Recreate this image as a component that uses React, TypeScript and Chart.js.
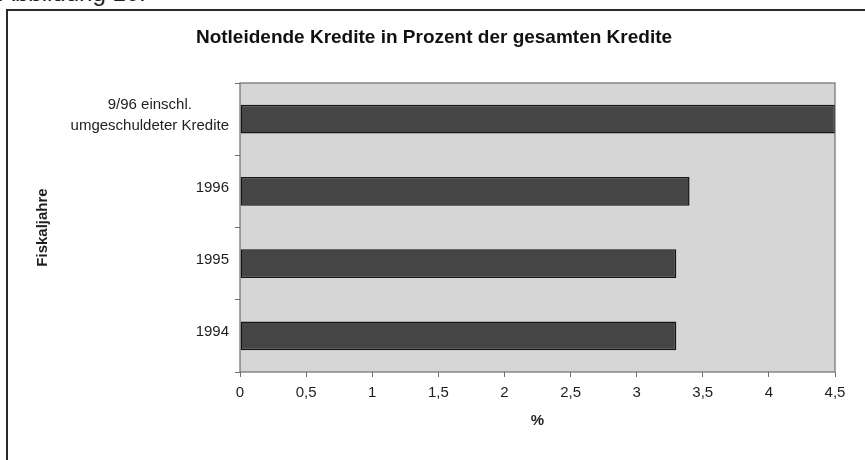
import React, { useEffect, useRef } from "react";
import { Chart, registerables } from "chart.js";

Chart.register(...registerables);

// ---- data ----
const categories: (string | string[])[] = [
  ["9/96 einschl.", "umgeschuldeter Kredite"],
  "1996",
  "1995",
  "1994",
];
const values: number[] = [4.5, 3.4, 3.3, 3.3];
const xMin = 0;
const xMax = 4.5;
const xStep = 0.5;
const chartTitle = "Notleidende Kredite in Prozent der gesamten Kredite";
const yAxisTitle = "Fiskaljahre";
const xAxisTitle = "%";
const figureCaption = "Abbildung 10:";

const FONT = '"Liberation Sans", Arial, Helvetica, sans-serif';

const plotDecor = {
  id: "plotDecor",
  beforeDraw(chart: any) {
    const { ctx, chartArea: a } = chart;
    ctx.save();
    ctx.fillStyle = "#d6d6d6";
    ctx.fillRect(a.left, a.top, a.right - a.left, a.bottom - a.top);
    ctx.restore();
  },
  afterDraw(chart: any) {
    const { ctx, chartArea: a } = chart;
    ctx.save();
    ctx.strokeStyle = "#6e6e6e";
    ctx.lineWidth = 1.2;
    ctx.strokeRect(a.left, a.top, a.right - a.left, a.bottom - a.top);

    // category labels: multi-line labels centred line by line, block right-aligned
    const ys = chart.scales.y;
    ctx.font = `15px ${FONT}`;
    ctx.fillStyle = "#1e1e1e";
    ctx.textBaseline = "middle";
    ctx.textAlign = "center";
    const rightX = ys.right - 11;
    const lh = 21;
    categories.forEach((lab, i) => {
      const y = ys.getPixelForValue(i) - 4;
      const lines = Array.isArray(lab) ? lab : [lab];
      const w = Math.max(...lines.map((l) => ctx.measureText(l).width));
      const cx = rightX - w / 2;
      lines.forEach((l, k) => {
        ctx.fillText(l, cx, y + (k - (lines.length - 1) / 2) * lh);
      });
    });
    ctx.restore();
  },
};

export default function App() {
  const ref = useRef<HTMLCanvasElement | null>(null);

  useEffect(() => {
    if (!ref.current) return;
    const chart = new Chart(ref.current, {
      type: "bar",
      data: {
        labels: categories as any,
        datasets: [
          {
            data: values,
            backgroundColor: "#454545",
            borderColor: "#151515",
            borderWidth: 1.5,
            borderSkipped: false,
            categoryPercentage: 1,
            barPercentage: 0.4,
          },
        ],
      },
      options: {
        indexAxis: "y",
        responsive: false,
        maintainAspectRatio: false,
        animation: false,
        devicePixelRatio: 1,
        layout: { padding: { top: 0, left: 33, right: 30, bottom: 0 } },
        plugins: {
          legend: { display: false },
          tooltip: { enabled: false },
          title: {
            display: true,
            text: chartTitle,
            color: "#111",
            font: { family: FONT, size: 19, weight: "bold" },
            padding: { top: 26.6, bottom: 33.6 },
          },
        },
        scales: {
          x: {
            type: "linear",
            min: xMin,
            max: xMax,
            ticks: {
              stepSize: xStep,
              color: "#1e1e1e",
              font: { family: FONT, size: 15 },
              padding: 7,
              callback: (v: any) => String(v).replace(".", ","),
            },
            grid: {
              drawOnChartArea: false,
              drawTicks: true,
              tickLength: 5,
              color: "#6e6e6e",
            },
            border: { display: false },
            title: {
              display: true,
              text: xAxisTitle,
              color: "#1e1e1e",
              font: { family: FONT, size: 15, weight: "bold" },
              padding: { top: 0, bottom: 30 },
            },
            afterFit: (s: any) => {
              s.height = 88;
            },
          },
          y: {
            type: "category",
            offset: true,
            ticks: { display: false },
            grid: {
              offset: true,
              drawOnChartArea: false,
              drawTicks: true,
              tickLength: 5,
              color: "#6e6e6e",
            },
            border: { display: false },
            title: {
              display: true,
              text: yAxisTitle,
              color: "#1e1e1e",
              font: { family: FONT, size: 15, weight: "bold" },
              padding: { top: 1, bottom: 0 },
            },
            afterFit: (s: any) => {
              s.width = 207;
            },
          },
        },
      },
      plugins: [plotDecor],
    } as any);
    return () => chart.destroy();
  }, []);

  return (
    <div
      style={{
        position: "fixed",
        left: 0,
        top: 0,
        width: 865,
        height: 460,
        background: "#fff",
        overflow: "hidden",
      }}
    >
      <div
        style={{
          position: "absolute",
          left: -1,
          top: -19,
          fontFamily: FONT,
          fontSize: 24,
          lineHeight: "24px",
          color: "#222",
          whiteSpace: "nowrap",
        }}
      >
        {figureCaption}
      </div>
      <div
        style={{
          position: "absolute",
          left: 6,
          top: 9,
          width: 900,
          height: 500,
          borderLeft: "2px solid #2a2a2a",
          borderTop: "2px solid #2a2a2a",
        }}
      />
      <canvas
        ref={ref}
        width={865}
        height={460}
        style={{ position: "absolute", left: 0, top: 0, width: 865, height: 460 }}
      />
    </div>
  );
}
